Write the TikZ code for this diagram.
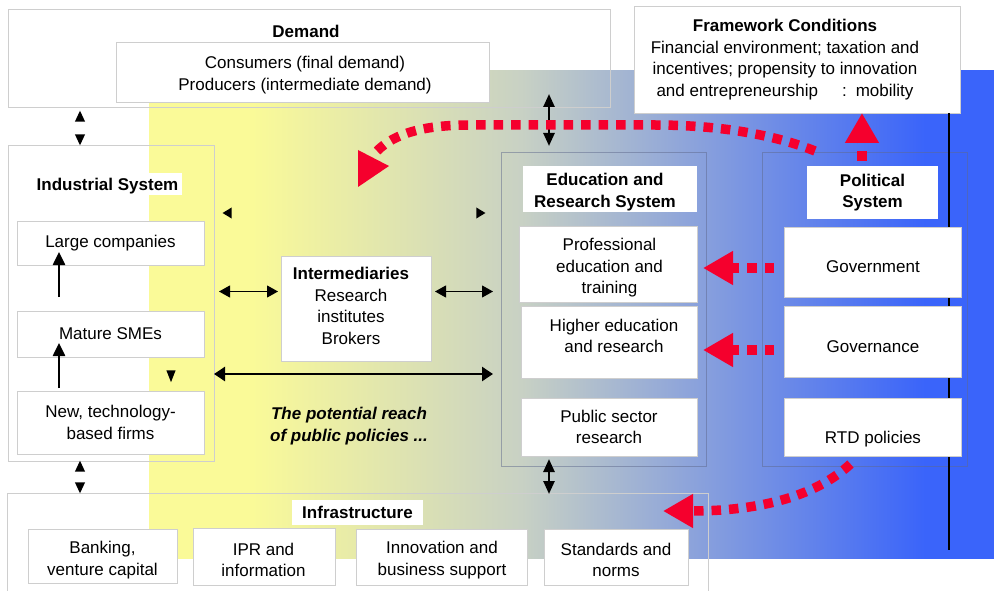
\documentclass[tikz,border=0pt]{standalone}
\usepackage{fontspec}
\setmainfont{Liberation Sans}
\usetikzlibrary{arrows.meta,calc}

\definecolor{paleyellow}{RGB}{250,250,152}
\definecolor{sage}{RGB}{200,209,196}
\definecolor{royal}{RGB}{58,100,250}
\definecolor{signalred}{RGB}{245,0,45}
\definecolor{edge}{RGB}{206,206,206}
\definecolor{slate}{RGB}{95,105,140}
\newcommand\bodyfont{\fontsize{17}{21.5}\selectfont}

% background band: yellow -> sage -> blue (path maps onto 25bp..75bp)
\pgfdeclarehorizontalshading{band}{100bp}{%
  color(0bp)=(paleyellow); color(31.09bp)=(paleyellow);
  color(47.01bp)=(sage); color(70.92bp)=(royal); color(100bp)=(royal)}

\begin{document}
\begin{tikzpicture}[x=1pt,y=-1pt,
  every node/.style={inner sep=0pt,outer sep=0pt,align=center,font=\bodyfont},
  panel/.style={draw=edge,line width=0.9pt},
  sysframe/.style={draw=slate,draw opacity=0.5,line width=0.9pt},
  card/.style={draw=edge,fill=white,line width=0.9pt},
  heading/.style={fill=white,font=\bodyfont\bfseries},
  linkthin/.style={line width=1pt,{Triangle[length=11pt,width=12pt]}-{Triangle[length=11pt,width=12pt]}},
  linkbold/.style={line width=2.5pt,{Triangle[length=11pt,width=14pt]}-{Triangle[length=11pt,width=14pt]}},
  linkvert/.style={line width=2.5pt,{Triangle[length=13pt,width=11pt]}-{Triangle[length=13pt,width=11pt]}},
  growth/.style={line width=2.5pt,-{Triangle[length=13pt,width=12pt]}},
  ghost/.style={draw opacity=0,line width=0.6pt},
  ghostpair/.style={ghost,{Triangle[length=12pt,width=11pt]}-{Triangle[length=12pt,width=11pt]}},
  ghostside/.style={ghost,{Triangle[length=10pt,width=12pt]}-{Triangle[length=10pt,width=12pt]}},
  ghostdrop/.style={ghost,-{Triangle[length=13pt,width=10pt]}},
  policy/.style={draw=signalred,line width=9.5pt,dash pattern=on 9.5pt off 8pt},
  policytip/.style={policy,-{Triangle[length=30pt,width=32pt]}},
]
\useasboundingbox (0,0) rectangle (994,591);

\shade[shading=band] (149,71) rectangle (994,558);

% outer frames
\node[panel,minimum width=602pt,minimum height=98pt] (demandOuter) at (309,58) {};
\node[font=\bodyfont\bfseries] (demandTitle) at (306,31) {Demand};
\node[card,minimum width=373pt,minimum height=60pt] (demandInner) at (302.5,72) {};
\node (demandText) at (305,75) {Consumers (final demand)\\Producers (intermediate demand)};

\node[panel,minimum width=206pt,minimum height=316pt] (industrialOuter) at (111,303) {};
\node[panel,minimum width=701pt,minimum height=110pt] (infraOuter) at (357.5,548) {};
\node[sysframe,minimum width=205pt,minimum height=314pt] (eduOuter) at (603.5,309) {};
\node[sysframe,minimum width=205pt,minimum height=314pt] (polOuter) at (864.5,309) {};

% framework conditions
\node[card,minimum width=326pt,minimum height=107pt] (framework) at (797,59.5) {};
\node (frameworkText) at (785,59.5) {\textbf{Framework Conditions}\\Financial environment; taxation and\\incentives; propensity to innovation\\and entrepreneurship\hspace{24pt}:\hspace{9pt}mobility};

% vertical rail
\coordinate (railEnd) at (949,550);
\draw[line width=2pt] (framework.south -| railEnd) -- (railEnd);

% industrial system
\node[heading,minimum width=151pt,minimum height=22pt] (industrialTitle) at (106,184) {};
\node[font=\bodyfont\bfseries] (industrialTitleText) at (107.5,186) {Industrial System};
\node[card,minimum width=187pt,minimum height=44pt] (large) at (110.5,243) {Large companies};
\node[card,minimum width=187pt,minimum height=46pt] (mature) at (110.5,334) {Mature SMEs};
\node[card,minimum width=187pt,minimum height=63pt] (newFirms) at (110.5,422.5) {New, technology-\\based firms};

% intermediaries
\node[card,minimum width=150pt,minimum height=105pt] (intermediaries) at (356,308.5) {};
\node (intermediariesText) at (351,306) {\textbf{Intermediaries}\\Research\\institutes\\Brokers};
\node[font=\bodyfont\bfseries\itshape] (reach) at (349,426) {The potential reach\\of public policies ...};

% education and research
\node[heading,minimum width=174pt,minimum height=46pt] (eduTitle) at (610,189) {};
\node[font=\bodyfont\bfseries] (eduTitleText) at (605,192) {Education and\\Research System};
\node[card,minimum width=178pt,minimum height=76pt] (profEdu) at (608,264) {};
\node (profEduText) at (609.5,268) {Professional\\education and\\training};
\node[card,minimum width=176pt,minimum height=72pt] (higherEdu) at (609,342) {};
\node (higherEduText) at (614,336) {Higher education\\and research};
\node[card,minimum width=176pt,minimum height=58pt] (publicRes) at (609,427) {Public sector\\research};

% political system
\node[heading,minimum width=131pt,minimum height=53pt] (polTitle) at (872.5,192.5) {Political\\System};
\node[card,minimum width=177pt,minimum height=70pt] (government) at (872.5,262) {};
\node (governmentText) at (873,267) {Government};
\node[card,minimum width=177pt,minimum height=71pt] (governance) at (872.5,341.5) {};
\node (governanceText) at (873,347) {Governance};
\node[card,minimum width=177pt,minimum height=58pt] (rtd) at (872.5,427) {};
\node (rtdText) at (873,439) {RTD policies};

% infrastructure
\node[heading,minimum width=131pt,minimum height=25pt] (infraTitle) at (357.5,512.5) {Infrastructure};
\node[card,minimum width=149pt,minimum height=54pt] (banking) at (102.5,556) {};
\node[card,minimum width=142pt,minimum height=57pt] (ipr) at (264,556.5) {};
\node[card,minimum width=171pt,minimum height=56pt] (innovation) at (441.5,557) {};
\node[card,minimum width=144pt,minimum height=56pt] (standards) at (616,557) {};
\node (bankingText) at (102.5,560) {Banking,\\venture capital};
\node (iprText) at (263.5,560) {IPR and\\information};
\node (innovationText) at (442,560) {Innovation and\\business support};
\node (standardsText) at (616,560) {Standards and\\norms};

% black links
\coordinate (linkX) at (80,0);
\coordinate (eduX) at (549,0);
\coordinate (growX) at (59,0);
\coordinate (dropX) at (171,0);
\coordinate (tierY) at (0,213);
\coordinate (brokerY) at (0,291.5);
\coordinate (reachY) at (0,374);

\draw[ghostpair,shorten <=-1pt,shorten >=3pt] (industrialOuter.north -| linkX) -- (demandOuter.south -| linkX);
\draw[ghostpair,shorten <=-1pt,shorten >=-1pt] (industrialOuter.south -| linkX) -- (infraOuter.north -| linkX);
\draw[ghostside,shorten <=8pt,shorten >=15pt] (industrialOuter.east |- tierY) -- (eduOuter.west |- tierY);
\draw[ghostdrop,shorten >=8pt] (mature.south -| dropX) -- (newFirms.north -| dropX);

\draw[growth,shorten <=14pt,shorten >=-13pt] (mature.north -| growX) -- (large.south -| growX);
\draw[growth,shorten <=3pt,shorten >=-14pt] (newFirms.north -| growX) -- (mature.south -| growX);

\draw[linkthin,shorten <=5pt,shorten >=3pt] (industrialOuter.east |- brokerY) -- (intermediaries.west |- brokerY);
\draw[linkthin,shorten <=4pt,shorten >=8pt] (intermediaries.east |- brokerY) -- (eduOuter.west |- brokerY);
\draw[linkbold,shorten >=8pt] (industrialOuter.east |- reachY) -- (eduOuter.west |- reachY);

\draw[linkvert,shorten <=6pt,shorten >=-13pt] (eduOuter.north -| eduX) -- (demandOuter.south -| eduX);
\draw[linkvert,shorten <=-7pt,shorten >=-1pt] (eduOuter.south -| eduX) -- (infraOuter.north -| eduX);

% policy influence (red)
\coordinate (govY) at (0,268);
\coordinate (ruleY) at (0,350);
\coordinate (loopEnd) at (377,151);
\draw[policytip,shorten <=10pt,shorten >=6pt] (government.west |- govY) -- (profEdu.east |- govY);
\draw[policytip,shorten <=10pt,shorten >=6pt] (governance.west |- ruleY) -- (higherEdu.east |- ruleY);
\draw[policytip,shorten <=5pt] ($(polTitle.north)+(-10.5,0)$) -- ($(framework.south)+(65,0)$);
\draw[policytip] ($(rtd.south)+(-22,8)$) .. controls (818,494) and (765,511) .. ($(infraOuter.north east)+(-45,18)$);
\draw[policy] ($(polOuter.north west)+(53,-1)$) .. controls (775,135) and (720,125) .. (655,125)
  -- (470,125) .. controls (425,125) and (395,133) .. (loopEnd);
\fill[signalred] (358,150) -- (389,166) -- (358,187) -- cycle;
\end{tikzpicture}
\end{document}
